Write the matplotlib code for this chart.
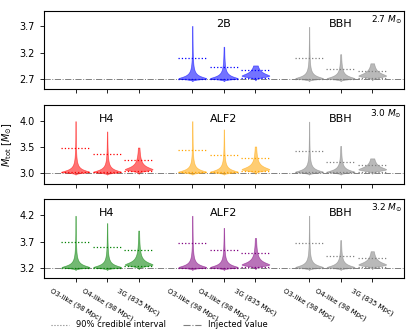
import numpy as np
import matplotlib.pyplot as plt
from matplotlib.lines import Line2D

RUNS = ['O3-like (98 Mpc)', 'O4-like (98 Mpc)', '3G (835 Mpc)']
INJECTED = [2.7, 3.0, 3.2]
PANEL_EOS = [[None, '2B', 'BBH'], ['H4', 'ALF2', 'BBH'], ['H4', 'ALF2', 'BBH']]
PANEL_COLORS = [[None, 'blue', 'gray'], ['red', 'orange', 'gray'], ['green', 'purple', 'gray']]
YLIMS = [(2.51, 3.98), (2.79, 4.31), (3.016, 4.50)]
YTICKS = [[2.7, 3.2, 3.7], [3.0, 3.5, 4.0], [3.2, 3.7, 4.2]]

# per violin: (max of posterior, upper 90% bound, lower 90% bound), order O3, O4, 3G
MAX_2_7 = [None, [3.70, 3.31, 2.96], [3.68, 3.17, 3.00]]
UP_2_7 = [None, [3.10, 2.93, 2.87], [3.10, 2.89, 2.85]]
LO_2_7 = [None, [2.71, 2.71, 2.73], [2.71, 2.71, 2.72]]

MAX_3_0 = [[4.00, 3.80, 3.49], [4.00, 3.84, 3.51], [3.99, 3.52, 3.28]]
UP_3_0 = [[3.49, 3.37, 3.25], [3.45, 3.35, 3.28], [3.43, 3.21, 3.16]]
LO_3_0 = [[3.01, 3.01, 3.04], [3.01, 3.01, 3.03], [3.01, 3.01, 3.02]]

MAX_3_2 = [[4.19, 4.05, 3.91], [4.19, 3.96, 3.77], [4.19, 3.73, 3.52]]
UP_3_2 = [[3.69, 3.60, 3.55], [3.67, 3.55, 3.49], [3.68, 3.43, 3.39]]
LO_3_2 = [[3.21, 3.21, 3.24], [3.21, 3.21, 3.23], [3.21, 3.21, 3.22]]

MAXES = [MAX_2_7, MAX_3_0, MAX_3_2]
UPS = [UP_2_7, UP_3_0, UP_3_2]
LOS = [LO_2_7, LO_3_0, LO_3_2]

GROUP_X = [0.0, 3.7, 7.4]
# shape of the posterior per run: peak offset above injection, tail scale, lower width
PEAK_OFF = [0.02, 0.02, 0.07]
TAIL = [0.05, 0.05, 0.065]
LOW_W = [0.025, 0.025, 0.04]


def violin_stats(inj, vmax, r):
    peak = inj + PEAK_OFF[r]
    coords = np.linspace(inj - 0.04 + PEAK_OFF[r] * 0.3, vmax, 400)
    above = 1.0 / (1.0 + (np.clip(coords - peak, 0, None) / TAIL[r]) ** 1.5)
    below = np.exp(-((peak - coords) / LOW_W[r]) ** 2)
    vals = np.where(coords >= peak, above, below)
    return dict(coords=coords, vals=vals, mean=peak, median=peak,
                min=coords[0], max=vmax)


fig, axes = plt.subplots(3, 1, figsize=(4.15, 3.32), dpi=100, sharex=True)
fig.subplots_adjust(left=0.106, right=0.973, top=0.967, bottom=0.163, hspace=0.2)

all_pos = [g + i for g in GROUP_X for i in range(3)]

for p, ax in enumerate(axes):
    inj = INJECTED[p]
    ax.axhline(inj, color='gray', ls='-.', lw=0.7, zorder=0)
    for g, gx in enumerate(GROUP_X):
        eos = PANEL_EOS[p][g]
        if eos is None:
            continue
        col = PANEL_COLORS[p][g]
        ax.text(gx + 1, YLIMS[p][0] + 0.83 * (YLIMS[p][1] - YLIMS[p][0]), eos,
                ha='center', va='center', fontsize=8)
        for i in range(3):
            x = gx + i
            st = violin_stats(inj, MAXES[p][g][i], i)
            parts = ax.violin([st], positions=[x], widths=0.88,
                              showmeans=False, showextrema=False, showmedians=False)
            for b in parts['bodies']:
                b.set_facecolor(col)
                b.set_edgecolor(col)
                b.set_alpha(0.55)
                b.set_linewidth(0.5)
            ax.hlines([UPS[p][g][i], LOS[p][g][i]], x - 0.45, x + 0.45,
                      colors=col, linestyles=':', lw=0.9)
    ax.set_ylim(*YLIMS[p])
    ax.set_yticks(YTICKS[p])
    ax.set_xlim(-1.0, 10.4)
    ax.set_xticks(all_pos)
    ax.tick_params(labelsize=7, length=3, width=0.6)
    ax.text(0.995, 0.97, '%.1f $M_{\\odot}$' % inj, transform=ax.transAxes,
            ha='right', va='top', fontsize=6.5)
    for s in ax.spines.values():
        s.set_linewidth(0.8)

axes[2].set_xticklabels(RUNS * 3, rotation=-30, fontsize=5, ha='center')
axes[1].set_ylabel('$M_{\\rm tot}$ [$M_{\\odot}$]', fontsize=7)

handles = [Line2D([], [], color='gray', ls=':', lw=0.8),
           Line2D([], [], color='gray', ls='-.', lw=0.8)]
fig.legend(handles, ['90% credible interval', 'Injected value'], loc='lower left',
           bbox_to_anchor=(0.105, -0.015), ncol=2, frameon=False, fontsize=6,
           handlelength=2.2, columnspacing=2.0)

fig.savefig('out.png', dpi=100)
